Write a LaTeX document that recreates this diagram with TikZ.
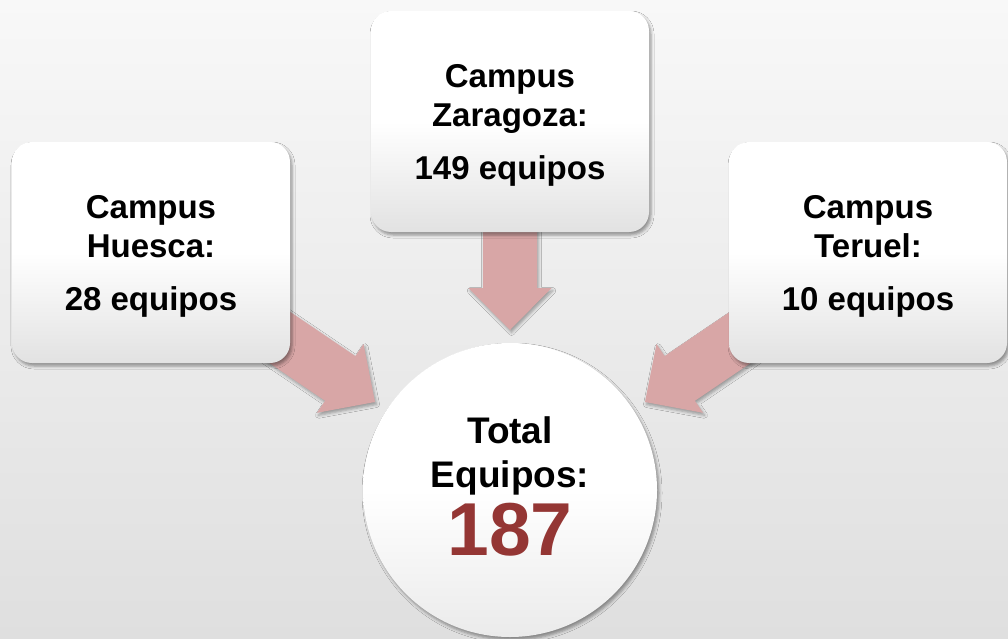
\documentclass[tikz,border=0pt]{standalone}
\usepackage{fontspec}
\setmainfont{Liberation Sans}
\usetikzlibrary{calc,shadows.blur}
\definecolor{bgtop}{HTML}{F8F8F8}
\definecolor{bgbot}{HTML}{DFDFDF}
\definecolor{arrowc}{HTML}{D8A6A6}
\definecolor{numred}{HTML}{943634}
\definecolor{boxbot}{HTML}{E2E2E2}
\newcommand{\blockarr}[2]{%
  \coordinate (ba-B) at ($(#2)!42pt!(#1)$);
  \fill[arrowfill] ($(#1)!27pt!90:(#2)$) -- ($(ba-B)!27pt!-90:(#1)$)
    -- ($(ba-B)!41.5pt!-90:(#1)$) -- (#2) -- ($(ba-B)!41.5pt!90:(#1)$)
    -- ($(ba-B)!27pt!90:(#1)$) -- ($(#1)!27pt!-90:(#2)$) -- cycle;
}
\tikzset{
  arrowfill/.style={fill=arrowc, blur shadow={shadow xshift=1.5pt, shadow yshift=-2.5pt, shadow opacity=35, shadow blur radius=3pt}},
  campusbox/.style={rounded corners=20pt, minimum width=278pt, minimum height=221pt,
    top color=white, bottom color=boxbot, middle color=white,
    blur shadow={shadow xshift=2pt, shadow yshift=-3pt, shadow opacity=40, shadow blur radius=3pt},
    align=center, inner sep=0pt, font=\bfseries\fontsize{33}{39}\selectfont},
  totalcircle/.style={circle, minimum size=294pt, inner sep=0pt,
    top color=white, bottom color=boxbot!70, middle color=white,
    blur shadow={shadow xshift=2pt, shadow yshift=-3pt, shadow opacity=40, shadow blur radius=3pt},
    align=center, font=\bfseries\fontsize{37}{44}\selectfont}
}
\begin{document}
\begin{tikzpicture}[x=1pt,y=-1pt]
\useasboundingbox (0,0) rectangle (1008,639);
\shade[top color=bgtop, bottom color=bgbot] (0,0) rectangle (1008,639);
% arrow anchors
\coordinate (sL) at (251,318);
\coordinate (tL) at (375,402);
\coordinate (sR) at (769,318);
\coordinate (tR) at (645,402);
\coordinate (sZ) at (510,200);
\coordinate (tZ) at (510,330);
\blockarr{sL}{tL}
\blockarr{sR}{tR}
\blockarr{sZ}{tZ}
% boxes
\node[campusbox] (huesca) at (151,252.5) {\rule{0pt}{30pt}Campus\\Huesca:\\[14pt]28 equipos};
\node[campusbox] (zaragoza) at (510,121.5) {\rule{0pt}{30pt}Campus\\Zaragoza:\\[14pt]149 equipos};
\node[campusbox] (teruel) at (868,252.5) {\rule{0pt}{30pt}Campus\\Teruel:\\[14pt]10 equipos};
% total
\node[totalcircle] (total) at (510,490) {Total\\Equipos:\\[7pt]{\fontsize{75}{75}\selectfont\color{numred}187}\rule[-7pt]{0pt}{7pt}};
\end{tikzpicture}
\end{document}
